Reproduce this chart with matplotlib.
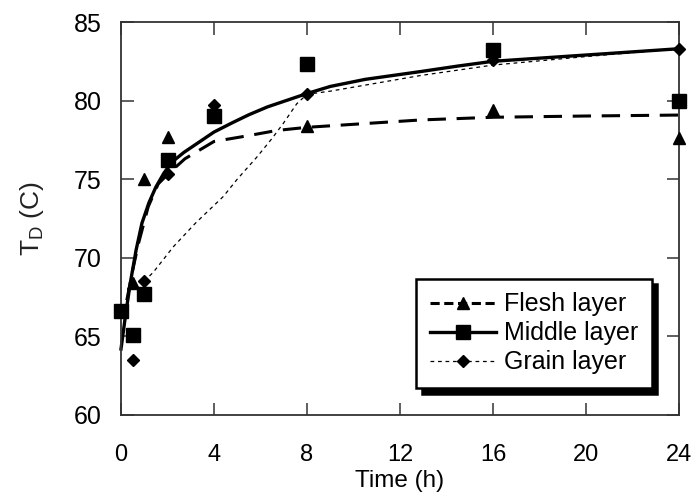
import matplotlib
matplotlib.use("Agg")
import matplotlib.pyplot as plt
from matplotlib.lines import Line2D

plt.rcParams['font.family'] = ['Liberation Sans', 'DejaVu Sans']
plt.rcParams['mathtext.fontset'] = 'custom'
plt.rcParams['mathtext.rm'] = 'Liberation Sans'
plt.rcParams['mathtext.it'] = 'Liberation Sans'

# measured points
times = [0, 0.5, 1, 2, 4, 8, 16, 24]
flesh = [66.6, 68.4, 75.0, 77.7, 79.2, 78.4, 79.4, 77.6]
middle = [66.6, 65.1, 67.7, 76.2, 79.0, 82.3, 83.2, 80.0]
grain = [66.6, 63.5, 68.5, 75.3, 79.7, 80.4, 82.6, 83.3]

# fitted curves
flesh_fit_t = [0.25, 0.5, 0.75, 1.17, 1.6, 2.0, 2.75, 4.0, 5.4, 6.7, 8, 12.9, 16, 20, 24]
flesh_fit_y = [67.3, 69.2, 70.9, 73.25, 74.7, 75.3, 76.3, 77.4, 77.75, 78.1, 78.3, 78.77, 78.94, 79.02, 79.08]
middle_fit_t = [0, 0.2, 0.4, 0.65, 0.9, 1.2, 1.5, 1.85, 2.2, 2.7, 3.2, 4.0, 4.8, 5.5, 6.3, 7.1, 8, 9, 10.5, 12.9, 14.5, 16, 18, 20, 22, 24]
middle_fit_y = [64.2, 66.4, 68.4, 70.5, 72.2, 73.5, 74.5, 75.4, 76.1, 76.7, 77.2, 78.0, 78.6, 79.1, 79.6, 80.0, 80.45, 80.9, 81.35, 81.85, 82.2, 82.5, 82.7, 82.9, 83.1, 83.3]
grain_fit_t = [1.0, 1.4, 2.25, 3.2, 4.4, 5.0, 5.84, 6.5, 6.98, 7.56, 8.0, 9, 12.9, 16, 20, 24]
grain_fit_y = [68.5, 69.1, 70.7, 72.2, 73.9, 75.0, 76.4, 77.6, 78.55, 79.8, 80.4, 80.6, 81.6, 82.26, 82.8, 83.3]

labels = ["Flesh layer", "Middle layer", "Grain layer"]
x_ticks = [0, 4, 8, 12, 16, 20, 24]
y_ticks = [60, 65, 70, 75, 80, 85]

fig = plt.figure(figsize=(6.91, 4.97), dpi=100)
ax = fig.add_axes([121/691, (497-415)/497, 558/691, 393/497])

ax.plot(flesh_fit_t, flesh_fit_y, color='black', lw=2.2, ls=(0, (6, 3.5)), clip_on=False)
ax.plot(middle_fit_t, middle_fit_y, color='black', lw=2.4, ls='-', clip_on=False)
ax.plot(grain_fit_t, grain_fit_y, color='black', lw=0.9, ls=(0, (3, 3)), clip_on=False)

ax.plot(times, flesh, ls='none', marker='^', ms=9, color='black', clip_on=False, zorder=3)
ax.plot(times, middle, ls='none', marker='s', ms=10, color='black', clip_on=False, zorder=3)
ax.plot(times, grain, ls='none', marker='D', ms=6.5, color='black', clip_on=False, zorder=3)

ax.set_xlim(0, 24)
ax.set_ylim(60, 85)
ax.set_xticks(x_ticks)
ax.set_yticks(y_ticks)
ax.tick_params(direction='in', length=9, width=1.1, colors='#333333', labelcolor='black',
               top=True, right=True)
ax.tick_params(axis='x', pad=21, labelsize=17)
ax.tick_params(axis='y', pad=14, labelsize=18)
for s in ax.spines.values():
    s.set_linewidth(1.3)
    s.set_color('#333333')

ax.set_xlabel("Time (h)", fontsize=17.5, labelpad=3)
ax.set_ylabel(r"T$_{\mathrm{D}}$ (C)", fontsize=19, labelpad=20, color='#222222')

handles = [
    Line2D([], [], color='black', lw=2.2, ls=(0, (3, 1.5)), marker='^', ms=9),
    Line2D([], [], color='black', lw=2.4, ls='-', marker='s', ms=10),
    Line2D([], [], color='black', lw=0.9, ls=(0, (3, 3)), marker='D', ms=6.5),
]
leg = ax.legend(handles, labels, loc='lower left', bbox_to_anchor=(0.5287, 0.0687),
                borderaxespad=0,
                fontsize=18, handlelength=2.64, handletextpad=0.32, labelspacing=0.2,
                borderpad=0.55, fancybox=False, frameon=True,
                shadow={'color': 'black', 'alpha': 1, 'ox': 4, 'oy': -4})
leg.get_frame().set_edgecolor('black')
leg.get_frame().set_linewidth(1.8)

fig.savefig("out.png", dpi=100)
